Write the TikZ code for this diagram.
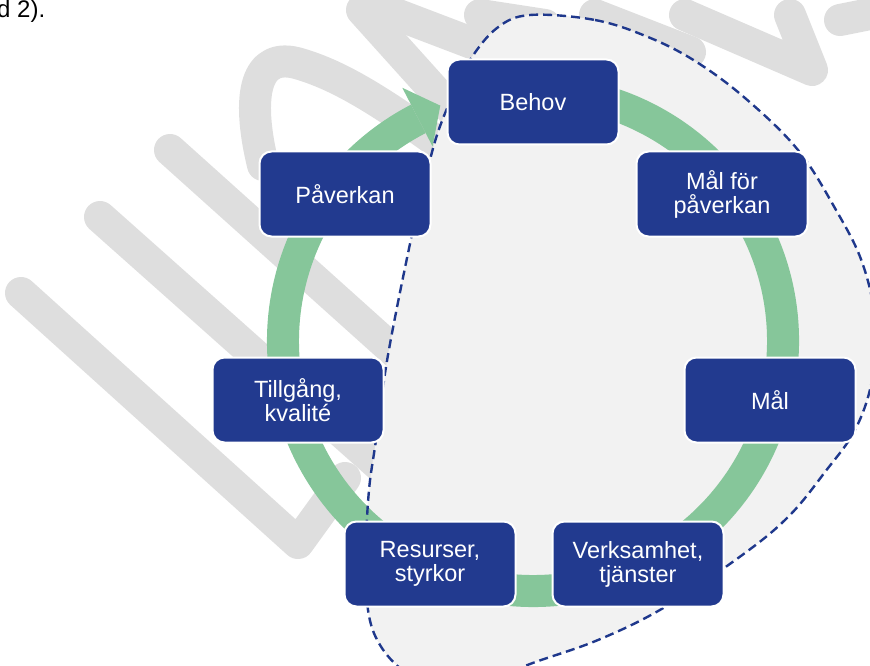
\documentclass[tikz,border=0pt]{standalone}
\usepackage{fontspec}
\setmainfont{Liberation Sans}
\usetikzlibrary{calc}
\definecolor{boxblue}{RGB}{34,58,143}
\definecolor{ringgreen}{RGB}{134,198,154}
\definecolor{wmgray}{RGB}{222,222,222}
\definecolor{blobgray}{RGB}{242,242,242}
\definecolor{dashblue}{RGB}{31,56,140}
\begin{document}
\begin{tikzpicture}[x=1pt,y=1pt,
  cyclebox/.style={rounded corners=12pt, fill=boxblue, draw=white, line width=2pt,
    minimum width=171pt, minimum height=85pt, text=white, align=center,
    font=\fontsize{23.5}{24}\selectfont, inner sep=0pt},
  wmstroke/.style={draw=wmgray, line width=32pt, line cap=round, line join=round},
  blobline/.style={draw=dashblue, line width=2.4pt, dash pattern=on 9pt off 5pt}]
\useasboundingbox (0,0) rectangle (870,-666);
\clip (0,0) rectangle (870,-666);
% watermark strokes
\draw[wmstroke] (21,-293) -- (298,-543) -- (345,-478);
\draw[wmstroke] (100,-217) -- (390,-475);
\draw[wmstroke] (170,-150) -- (415,-370);
\draw[wmstroke] (263,-165) .. controls (246,-95) and (255,-50) .. (300,-64) .. controls (340,-76) and (380,-100) .. (455,-155);
\draw[wmstroke] (362,-10) -- (470,-130);
\draw[wmstroke] (385,-10) -- (490,-50);
\draw[wmstroke] (480,-15) -- (545,-25);
\draw[wmstroke] (595,-15) -- (690,-52);
\draw[wmstroke] (685,-15) -- (812,-70) -- (790,-15);
\draw[wmstroke] (840,-20) -- (890,-10);
% blob fill
\path[fill=blobgray] plot[smooth cycle, tension=0.6] coordinates {
  (530,-15) (595,-20) (648,-37) (695,-61) (745,-98) (798,-150) (836,-210)
  (862,-262) (875,-320) (872,-380) (855,-430) (825,-472) (790,-515) (745,-553)
  (665,-607) (598,-640) (530,-664) (485,-683) (440,-688) (405,-672) (380,-645)
  (368,-610) (366,-550) (369,-490) (376,-440) (388,-355) (411,-239) (425,-180)
  (437,-135) (452,-97) (470,-60) (497,-28)};
% ring with arrow
\coordinate (O) at (533,-341);
\fill[ringgreen] ($(O)+(80:266)$) arc[start angle=80, end angle=-242.7, radius=266]
  -- ($(O)+(-242.7:234)$) arc[start angle=-242.7, end angle=80, radius=234] -- cycle;
\fill[ringgreen] ($(O)+(117.3:285)$) -- ($(O)+(111.5:253)$) -- ($(O)+(117.3:219)$) -- cycle;
% blob border
\path[blobline] plot[smooth cycle, tension=0.6] coordinates {
  (530,-15) (595,-20) (648,-37) (695,-61) (745,-98) (798,-150) (836,-210)
  (862,-262) (875,-320) (872,-380) (855,-430) (825,-472) (790,-515) (745,-553)
  (665,-607) (598,-640) (530,-664) (485,-683) (440,-688) (405,-672) (380,-645)
  (368,-610) (366,-550) (369,-490) (376,-440) (388,-355) (411,-239) (425,-180)
  (437,-135) (452,-97) (470,-60) (497,-28)};
% boxes
\node[cyclebox] (behov) at (533,-102) {Behov};
\node[cyclebox] (malfor) at (722,-194) {Mål för\\påverkan};
\node[cyclebox] (mal) at (770,-400) {Mål};
\node[cyclebox] (verksamhet) at (638,-564) {Verksamhet,\\tjänster};
\node[cyclebox] (resurser) at (430,-564) {Resurser,\\styrkor};
\node[cyclebox] (tillgang) at (298,-400) {Tillgång,\\kvalité};
\node[cyclebox] (paverkan) at (345,-194) {Påverkan};
% cut-off text
\node[anchor=base west, inner sep=0pt, font=\fontsize{24}{26}\selectfont] (reftext) at (-3,-18) {d 2).};
\end{tikzpicture}
\end{document}
